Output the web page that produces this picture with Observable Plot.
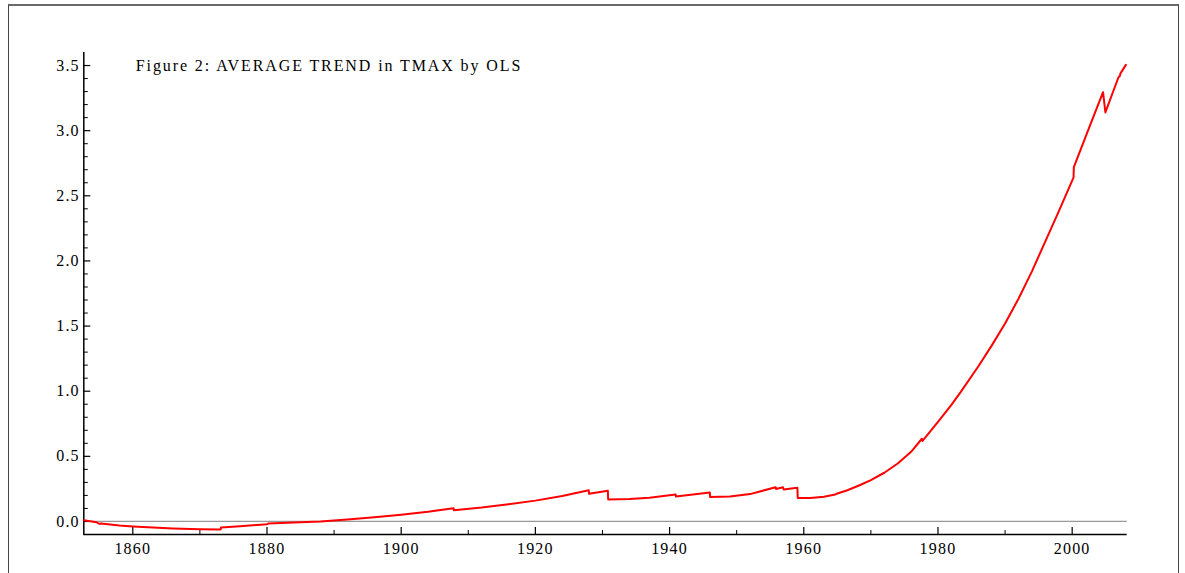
<!DOCTYPE html>
<html>
<head>
<meta charset="utf-8">
<script src="https://cdn.jsdelivr.net/npm/d3@7"></script>
<script src="https://cdn.jsdelivr.net/npm/@observablehq/plot@0.6"></script>
<style>
  html, body { margin: 0; padding: 0; background: #fff; overflow: hidden; }
  #page { position: relative; width: 1185px; height: 573px; }
  #frame { position: absolute; left: 8px; top: 4px; width: 1169px; height: 700px;
           border-top: 2px solid #6a6a6a; border-left: 1.5px solid #444; border-right: 1.5px solid #444; }
  #chart { position: absolute; left: 0; top: 0; }
</style>
</head>
<body>
<div id="page"><div id="frame"></div><div id="chart"></div></div>
<script>
const title = "Figure 2: AVERAGE TREND in TMAX by OLS";
const years = [
  1852.7, 1854.6, 1855.0, 1855.3, 1858, 1860, 1863, 1866, 1870, 1873.1, 1873.15, 1876, 1880, 1880.2,
  1884, 1888, 1892, 1896, 1900, 1904, 1907.8, 1907.85, 1912, 1916, 1920, 1924, 1927.95, 1928.0,
  1930.8, 1930.85, 1934, 1937, 1940.9, 1940.95, 1946.0, 1946.05, 1949, 1952, 1955.8, 1955.85,
  1956.9, 1957.0, 1959.05, 1959.1, 1961, 1963, 1964.7, 1964.9, 1966.5, 1968.4, 1970, 1972,
  1974, 1976, 1977.6, 1977.7, 1980, 1982, 1983.4, 1986, 1988, 1990, 1992, 1994, 1996, 1998,
  2000.0, 2000.2, 2000.25, 2002.5, 2004.6, 2004.95, 2006.9, 2007.1, 2007.2, 2008.0
];
const trend = [
  0.010, -0.006, -0.018, -0.016, -0.030, -0.038, -0.047, -0.054, -0.059, -0.061, -0.046, -0.036, -0.021, -0.016,
  -0.007, 0.000, 0.015, 0.032, 0.052, 0.075, 0.102, 0.087, 0.108, 0.133, 0.160, 0.196, 0.240, 0.212,
  0.236, 0.169, 0.172, 0.182, 0.207, 0.192, 0.222, 0.187, 0.192, 0.210, 0.263, 0.250,
  0.262, 0.245, 0.258, 0.180, 0.180, 0.190, 0.207, 0.213, 0.240, 0.280, 0.318, 0.374,
  0.445, 0.535, 0.635, 0.618, 0.765, 0.895, 0.995, 1.190, 1.350, 1.520, 1.710, 1.920, 2.150, 2.380,
  2.617, 2.640, 2.720, 3.020, 3.295, 3.140, 3.410, 3.420, 3.440, 3.505
];
const xMajor = [1860, 1880, 1900, 1920, 1940, 1960, 1980, 2000];
const xMinor = [1870, 1890, 1910, 1930, 1950, 1970, 1990];
const yMajor = [0.0, 0.5, 1.0, 1.5, 2.0, 2.5, 3.0, 3.5];
const yMinor = d3.range(-1, 36).map(i => i / 10).filter(v => Math.abs(v * 2 - Math.round(v * 2)) > 1e-9);

const xDom = [1852.7, 2008.2];
const yDom = [-0.1, 3.6];
const pxPerYear = (1185 - 83.3 - 58.3) / (xDom[1] - xDom[0]);
const pxPerUnit = (573 - 52 - 39) / (yDom[1] - yDom[0]);

const data = years.map((y, i) => ({year: y, value: trend[i]}));

const chart = Plot.plot({
  width: 1185,
  height: 573,
  marginLeft: 83.3,
  marginRight: 58.3,
  marginTop: 52,
  marginBottom: 39,
  x: {domain: xDom},
  y: {domain: yDom},
  style: {fontFamily: "Liberation Serif", fontSize: "16px", color: "#000", background: "transparent"},
  marks: [
    Plot.ruleY([0], {x1: xDom[0], x2: xDom[1], stroke: "#999", strokeWidth: 1.2}),
    Plot.ruleX([xDom[0]], {y1: yDom[0], y2: yDom[1], stroke: "#000", strokeWidth: 1.5}),
    Plot.ruleY([yDom[0]], {x1: xDom[0], x2: xDom[1], stroke: "#000", strokeWidth: 1.5}),
    Plot.ruleY(yMajor, {y: d => d, x1: xDom[0], x2: xDom[0] + 7 / pxPerYear, stroke: "#000", strokeWidth: 1.2}),
    Plot.ruleY(yMinor, {y: d => d, x1: xDom[0], x2: xDom[0] + 4.5 / pxPerYear, stroke: "#000", strokeWidth: 1}),
    Plot.ruleX(xMajor, {x: d => d, y1: yDom[0], y2: yDom[0] + 7 / pxPerUnit, stroke: "#000", strokeWidth: 1.2}),
    Plot.ruleX(xMinor, {x: d => d, y1: yDom[0], y2: yDom[0] + 4 / pxPerUnit, stroke: "#000", strokeWidth: 1}),
    Plot.axisY({ticks: yMajor, tickSize: 0, tickPadding: 4, tickFormat: d => d.toFixed(1), label: null, fontSize: 16}),
    Plot.axisX({ticks: xMajor, tickSize: 0, tickPadding: 8, tickFormat: d => String(d), label: null, fontSize: 16}),
    Plot.line(data, {x: "year", y: "value", stroke: "#ff0000", strokeWidth: 2, curve: "linear"}),
    Plot.text([title], {x: xDom[0], y: 3.5, text: d => d, frameAnchor: "left", textAnchor: "start", dx: 52, dy: 0, fontSize: 16, fill: "#000"})
  ]
});
d3.select(chart).selectAll("g[aria-label='x-axis tick label'] text, g[aria-label='y-axis tick label'] text")
  .attr("letter-spacing", "1.2px");
d3.select(chart).selectAll("g[aria-label='text'] text").attr("letter-spacing", "1.9px");
document.getElementById("chart").appendChild(chart);
</script>
</body>
</html>
